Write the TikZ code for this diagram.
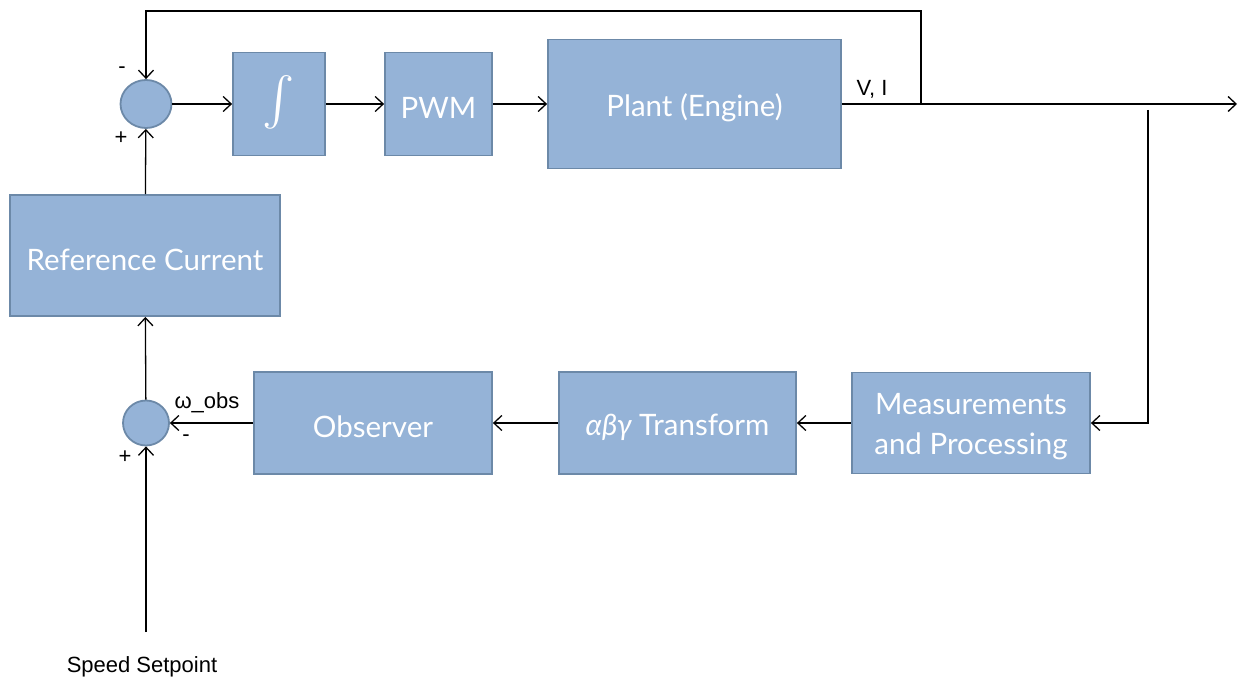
\documentclass[tikz,border=0pt]{standalone}
\usepackage{fontspec}
\setmainfont{Lato}
\newfontfamily\lab{Liberation Sans}
\usetikzlibrary{arrows.meta,shapes.geometric}
\definecolor{boxfill}{RGB}{149,179,215}
\definecolor{boxedge}{RGB}{108,137,168}
\newcommand{\dnt}[1]{\raisebox{-4pt}[\height][\depth]{#1}}
\begin{document}
\begin{tikzpicture}[x=1pt,y=-1pt,
  blk/.style={draw=boxedge,fill=boxfill,line width=1.8pt,text=white,font=\fontsize{29.5}{40}\selectfont,align=center,inner sep=0pt},
  sumj/.style={ellipse,draw=boxedge,fill=boxfill,line width=1.8pt,inner sep=0pt},
  wire/.style={line width=1.3pt,-{Straight Barb[length=8pt,width=15pt,line width=1.3pt]}},
  lbl/.style={font=\lab\fontsize{22}{25}\selectfont,inner sep=0pt}]
\useasboundingbox (0,0) rectangle (1239,682);
% blocks
\node[sumj,minimum width=51pt,minimum height=48pt] (s1) at (146,104) {};
\node[blk,minimum width=92pt,minimum height=103pt] (int) at (279,104) {\resizebox{!}{57pt}{$\int$}};
\node[blk,minimum width=107pt,minimum height=103pt] (pwm) at (438.5,104) {\dnt{PWM}};
\node[blk,minimum width=293pt,minimum height=129pt] (plant) at (694.5,104) {\dnt{Plant (Engine)}};
\node[blk,minimum width=270pt,minimum height=121pt] (ref) at (145,255.5) {\dnt{Reference Current}};
\node[sumj,minimum width=46pt,minimum height=45pt] (s2) at (146,423) {};
\node[blk,minimum width=238pt,minimum height=102pt] (obs) at (373,423) {\dnt{Observer}};
\node[blk,minimum width=237pt,minimum height=102pt] (trans) at (677.5,423) {\dnt{{\itshape αβγ} Transform}};
\node[blk,minimum width=238pt,minimum height=101pt] (meas) at (971,423) {\dnt{Measurements}\\\dnt{and Processing}};
% coordinates
\coordinate (out) at (1237,104);
\coordinate (tap) at (921,104);
\coordinate (fbtop) at (921,11);
\coordinate (br) at (1148,110);
\coordinate (sp) at (146,632);
% connectors
\draw[wire] (s1) -- (int);
\draw[wire] (int) -- (pwm);
\draw[wire] (pwm) -- (plant);
\draw[wire] (plant) -- (out);
\draw[wire] (tap) -- (fbtop) -| (s1.north);
\draw[wire] (br) |- (meas.east);
\draw[wire] (meas) -- (trans);
\draw[wire] (trans) -- (obs);
\draw[wire] (obs) -- (s2);
\draw[wire] (s2) -- (ref);
\draw[wire] (ref) -- (s1);
\draw[wire] (sp) -- (s2);
% labels
\node[lbl] (m1) at (122,70) {-};
\node[lbl] (p1) at (121,138) {+};
\node[lbl] (vi) at (872,89) {V, I};
\node[lbl] (wobs) at (207,403) {ω\_obs};
\node[lbl] (m2) at (186,438) {-};
\node[lbl] (p2) at (125,457) {+};
\node[lbl] (spd) at (142,667) {Speed Setpoint};
\end{tikzpicture}
\end{document}
